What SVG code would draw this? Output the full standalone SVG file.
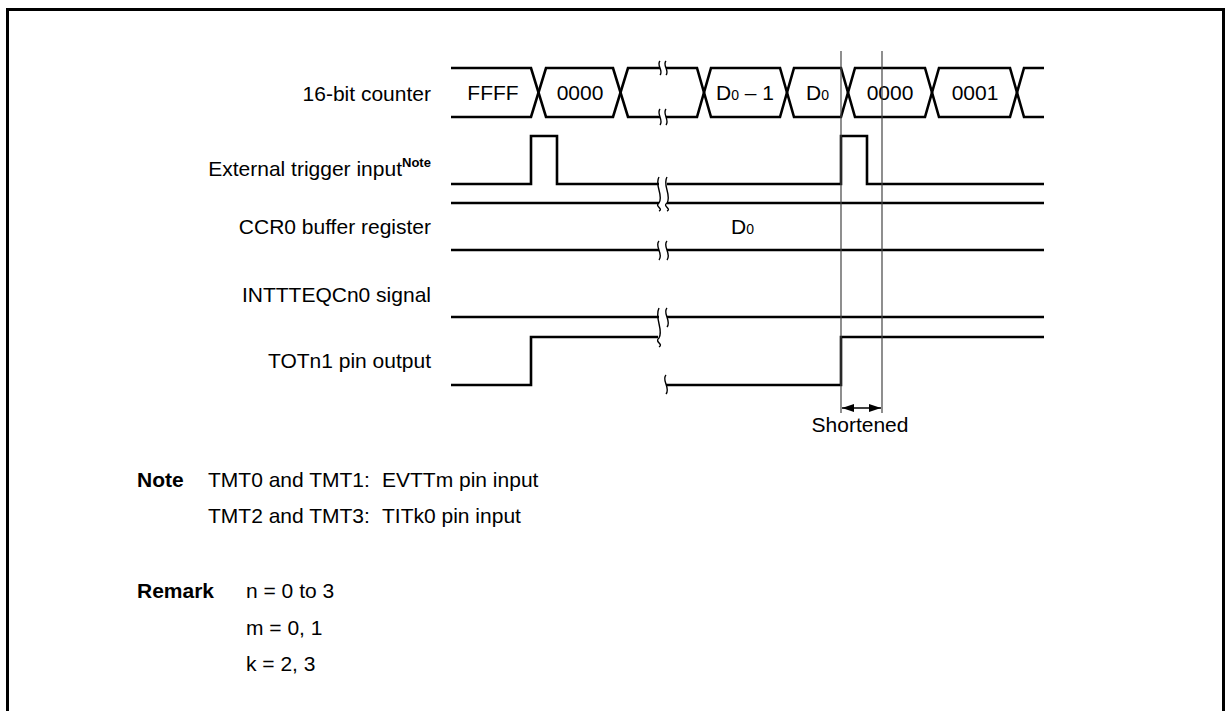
<svg xmlns="http://www.w3.org/2000/svg" width="1231" height="711" viewBox="0 0 1231 711">
<defs>
<style>
text{font-family:"Liberation Sans",Arial,Helvetica,sans-serif;font-size:21px;fill:#000}
.lbl{text-anchor:end}
.ctr{text-anchor:middle}
.b{font-weight:bold}
.sup{font-size:13px;font-weight:bold}
.sub{font-size:14px}
.sig{fill:none;stroke:#000;stroke-width:2.6;stroke-linejoin:miter}
.brk{fill:none;stroke:#000;stroke-width:1.4}
.gap{fill:#fff;stroke:none}
.guide{stroke:#444;stroke-width:1.2;fill:none}
.frame{fill:none;stroke:#000;stroke-width:3}
</style>
<marker id="ah" viewBox="0 0 12 8" refX="12" refY="4" markerWidth="12" markerHeight="8" markerUnits="userSpaceOnUse" orient="auto-start-reverse">
<path d="M0,0 L12,4 L0,8 Z" fill="#000"/>
</marker>
</defs>
<rect width="1231" height="711" fill="#fff"/>
<path class="frame" d="M7.5,711 V9.5 H1223.5 V711"/>

<g id="counter">
<text class="lbl" x="431" y="101">16-bit counter</text>
<path class="sig" d="M451,68 H531 L546,117 H613 L628,68 H697 L711,117 H780 L794,68 H841 L855,117 H925 L939,68 H1010 L1024,117 H1044"/>
<path class="sig" d="M451,117 H531 L546,68 H613 L628,117 H697 L711,68 H780 L794,117 H841 L855,68 H925 L939,117 H1010 L1024,68 H1044"/>
<rect class="gap" x="660" y="62" width="6" height="12"/>
<rect class="gap" x="660" y="111" width="6" height="12"/>
<path class="brk" d="M660,61 C656,65 664,71 660,75 M666,61 C662,65 670,71 666,75"/>
<path class="brk" d="M660,109 C656,114 664,120 660,125 M666,109 C662,114 670,120 666,125"/>
<text class="ctr" x="493" y="100">FFFF</text>
<text class="ctr" x="580" y="100">0000</text>
<text x="716" y="100">D<tspan class="sub">0</tspan> – 1</text>
<text x="806" y="100">D<tspan class="sub">0</tspan></text>
<text class="ctr" x="890" y="100">0000</text>
<text class="ctr" x="975" y="100">0001</text>
</g>

<g id="trigger">
<text class="lbl" x="402" y="176">External trigger input</text>
<text class="sup" x="402" y="167">Note</text>
<path class="sig" d="M451,184 H531 V136 H557 V184 H841 V136 H867 V184 H1044"/>
</g>

<g id="ccr0">
<text class="lbl" x="431" y="234">CCR0 buffer register</text>
<path class="sig" d="M451,203 H1044"/>
<path class="sig" d="M451,250 H1044"/>
<text x="731" y="234">D<tspan class="sub">0</tspan></text>
<rect class="gap" x="659" y="180" width="8" height="28"/>
<path class="brk" d="M659,177 C654,185 664,195 659,203 C654,206 664,209 659,211 M667,177 C662,185 672,195 667,203 C662,206 672,209 667,211"/>
<rect class="gap" x="659" y="244" width="8" height="12"/>
<path class="brk" d="M659,241 C654,246 664,254 659,260 M667,241 C662,246 672,254 667,260"/>
</g>

<g id="inttteq">
<text class="lbl" x="431" y="302">INTTTEQCn0 signal</text>
<path class="sig" d="M451,317 H1044"/>
<rect class="gap" x="659" y="311" width="8" height="12"/>
<path class="brk" d="M667,308 C662,313 672,321 667,327"/>
</g>

<g id="totn1">
<text class="lbl" x="431" y="368">TOTn1 pin output</text>
<path class="sig" d="M451,385 H531 V337 H658"/>
<path class="sig" d="M666,385 H841 V337 H1044"/>
<path class="brk" d="M659,308 C654,318 664,330 659,338 C654,342 664,344 659,347"/>
<path class="brk" d="M666,375 C661,380 671,388 666,394"/>
</g>

<g id="connectors">
<line class="guide" x1="841" y1="51" x2="841" y2="413"/>
<line class="guide" x1="882" y1="51" x2="882" y2="413"/>
<line x1="842" y1="408" x2="881" y2="408" stroke="#000" stroke-width="1.4" marker-start="url(#ah)" marker-end="url(#ah)"/>
</g>

<g id="shortened">
<text class="ctr" x="860" y="432">Shortened</text>
</g>

<g id="notes">
<text class="b" x="137" y="487">Note</text>
<text x="208" y="487">TMT0 and TMT1:</text>
<text x="382" y="487">EVTTm pin input</text>
<text x="208" y="523">TMT2 and TMT3:</text>
<text x="382" y="523">TITk0 pin input</text>
<text class="b" x="137" y="598">Remark</text>
<text x="246" y="598">n = 0 to 3</text>
<text x="246" y="635">m = 0, 1</text>
<text x="246" y="671">k = 2, 3</text>
</g>
</svg>
